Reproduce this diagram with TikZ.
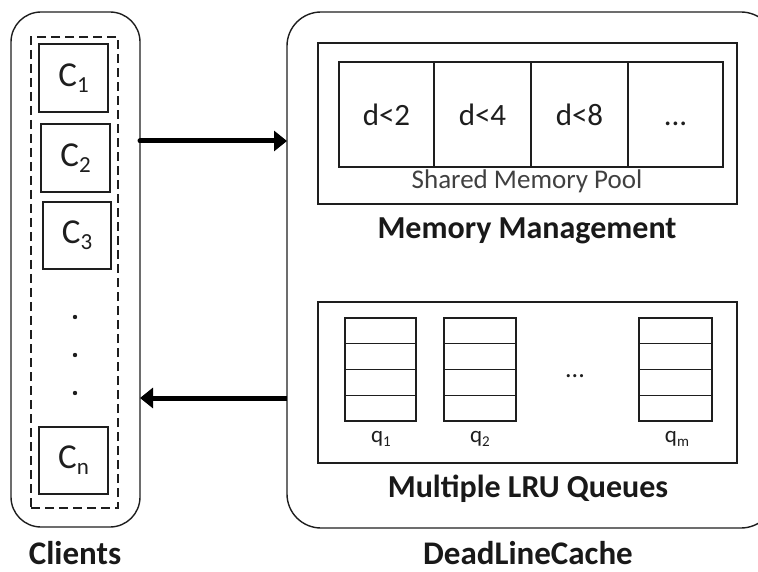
\documentclass[tikz,border=0pt]{standalone}
\usepackage{fontspec}
\setmainfont{Carlito}
\usetikzlibrary{arrows.meta}
\definecolor{ink}{HTML}{1E1E1E}
\tikzset{
  every node/.style={inner sep=0pt, outer sep=0pt, text=ink},
  frame/.style={draw=ink, line width=1.4pt, rounded corners=#1},
  box/.style={draw=ink, line width=1.4pt, rectangle},
  cbox/.style={box, minimum width=69pt, minimum height=68pt, font=\fontsize{35}{35}\selectfont},
  cell/.style={box, minimum width=96pt, minimum height=105pt, font=\fontsize{31}{31}\selectfont, text height=22pt, text depth=0pt},
  qrow/.style={box, minimum width=72pt, minimum height=25.75pt},
  title/.style={font=\bfseries\fontsize{32}{32}\selectfont, text=black!90},
  bigtitle/.style={font=\bfseries\fontsize{33}{33}\selectfont, text=black!90, anchor=base},
  qlab/.style={font=\fontsize{23}{23}\selectfont},
  bigarrow/.style={draw=black, line width=5pt, -{Triangle[length=13pt,width=20pt]}},
}
\newcommand{\sub}[1]{\raisebox{-6pt}{\fontsize{23}{23}\selectfont #1}}
\newcommand{\qsub}[1]{\raisebox{-4pt}{\fontsize{15}{15}\selectfont #1}}
\begin{document}
\begin{tikzpicture}[x=1pt,y=-1pt]
\useasboundingbox (0,0) rectangle (758,572);
\clip (0,0) rectangle (758,572);
% clients
\node[frame=30pt, minimum width=129pt, minimum height=515pt] (clients) at (75.5,269.5) {};
\node[draw=ink, line width=1.4pt, dash pattern=on 9pt off 5pt, minimum width=87pt, minimum height=471pt] (group) at (74.5,272.5) {};
\node[cbox] (c1) at (73.5,78) {C\sub{1}};
\node[cbox] (c2) at (75.5,158) {C\sub{2}};
\node[cbox, minimum width=68pt, minimum height=67pt] (c3) at (77,235.5) {C\sub{3}};
\node[cbox, minimum height=67pt] (cn) at (73.5,460.5) {C\sub{n}};
\fill[ink] (75,317) circle (2.2pt) (75,355) circle (2.2pt) (75,393) circle (2.2pt);
\node[bigtitle] (clab) at (75,564) {Clients};
% deadline cache
\node[frame=34pt, minimum width=488pt, minimum height=516pt] (cache) at (531,270) {};
\node[bigtitle] (dlab) at (528,564) {DeadLineCache};
% memory management
\node[box, minimum width=419pt, minimum height=161pt] (mem) at (527.5,123.5) {};
\node[cell, minimum width=95pt] (p1) at (386.5,114.5) {d<2};
\node[cell, minimum width=97pt] (p2) at (482.5,114.5) {d<4};
\node[cell, minimum width=97pt] (p3) at (579.5,114.5) {d<8};
\node[cell, minimum width=95pt] (p4) at (675.5,114.5) {...};
\node[font=\fontsize{27}{27}\selectfont, text=ink!85] (pool) at (527,181) {Shared Memory Pool};
\node[title] (mlab) at (527,231) {Memory Management};
% queues
\node[box, minimum width=419pt, minimum height=161pt] (qs) at (527.5,382.5) {};
\foreach \n/\x/\w in {a/380.5/71, b/480/72, m/675.5/73}{
  \foreach \r in {0,1,2,3}{
    \node[qrow, minimum width=\w pt] (q\n\r) at (\x,{330.875+25.75*\r}) {};
  }
}
\node[font=\fontsize{26}{26}\selectfont, anchor=base] (qdots) at (575,377) {...};
\node[qlab] (l1) at (381,439) {q\qsub{1}};
\node[qlab] (l2) at (480,439) {q\qsub{2}};
\node[qlab] (lm) at (677,439) {q\qsub{m}};
\node[title] (qlabt) at (528,489) {Multiple LRU Queues};
% arrows
\coordinate (o1) at (clients.east |- 0,141);
\coordinate (i1) at (cache.west |- 0,141);
\coordinate (o2) at (cache.west |- 0,398);
\coordinate (i2) at (clients.east |- 0,398);
\draw[bigarrow, line cap=round] (o1) -- (i1);
\draw[bigarrow] (o2) -- (i2);
\end{tikzpicture}
\end{document}
